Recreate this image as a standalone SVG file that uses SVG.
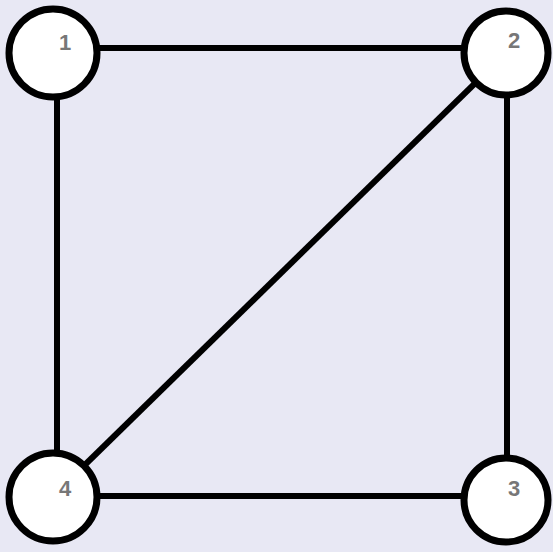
<svg xmlns="http://www.w3.org/2000/svg" width="553" height="552" viewBox="0 0 553 552">
<style>
.edge{stroke:#000;stroke-width:6;fill:none}
.node circle{fill:#fff;stroke:#000;stroke-width:7}
.node text{font-family:"Liberation Sans",Arial,sans-serif;font-size:22px;font-weight:bold;fill:#777;text-anchor:middle;dominant-baseline:central}
</style>
<rect width="553" height="552" fill="#e8e8f4"/>
<g id="connectors">
<line class="edge" x1="52" y1="48" x2="506" y2="48"/>
<line class="edge" x1="57" y1="52" x2="57" y2="497"/>
<line class="edge" x1="507" y1="52" x2="507" y2="500"/>
<line class="edge" x1="52" y1="496" x2="506" y2="496"/>
<line class="edge" x1="506" y1="53" x2="52" y2="497"/>
</g>
<g id="node1" class="node"><circle cx="53" cy="53" r="44"/><text x="65" y="42">1</text></g>
<g id="node2" class="node"><circle cx="506" cy="53" r="42"/><text x="514" y="40">2</text></g>
<g id="node4" class="node"><circle cx="53" cy="497" r="44"/><text x="65" y="488">4</text></g>
<g id="node3" class="node"><circle cx="506" cy="500" r="42"/><text x="514" y="488">3</text></g>
</svg>
